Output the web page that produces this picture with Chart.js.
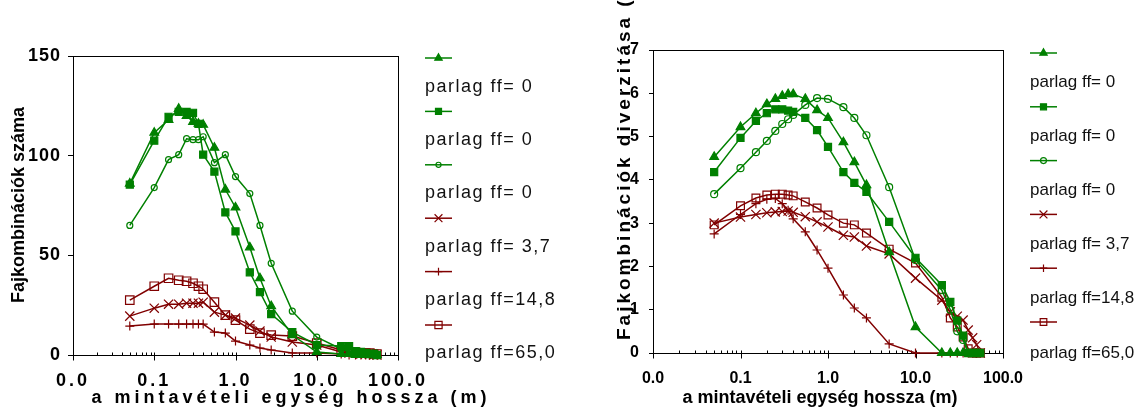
<!DOCTYPE html>
<html><head><meta charset="utf-8">
<script src="https://cdn.jsdelivr.net/npm/chart.js@4/dist/chart.umd.min.js"></script>
<style>
html,body{margin:0;padding:0;background:#fff;}
#wrap{position:relative;width:1138px;height:409px;overflow:hidden;background:#fff;}
#c1{position:absolute;left:0;top:0;}
#c2{position:absolute;left:570px;top:0;}
</style></head><body>
<div id="wrap"><canvas id="c1" width="570" height="409"></canvas><canvas id="c2" width="568" height="409"></canvas></div>
<script>
// ---- data ----
const lengths = [0.05,0.1,0.15,0.2,0.25,0.3,0.35,0.4,0.55,0.75,1,1.5,2,2.75,5,10,20,25,30,35,40,45,50,55];
const legendLabels = ['parlag ff= 0','parlag ff= 0','parlag ff= 0','parlag ff= 3,7','parlag ff=14,8','parlag ff=65,0'];
const xTickValues = [0.01,0.1,1,10,100];
const xTickLabels = ['0.0','0.1','1.0','10.0','100.0'];

// left chart: Fajkombinációk száma
const countA = [86,111.5,118,123.5,120,117,116,115.5,104,83,74,54,38.5,24.5,10,1.5,0.5,0.5,0,0,0,0,0,0];
const countB = [85.5,107.5,119.5,122,122,121.5,116,100.5,92,71.5,62,41.5,31.5,20.5,11.5,5,4.5,4.5,2,1.5,1,0.5,0.5,0];
const countC = [65,84,98,100.5,108.5,108,108,109.5,96.5,100.5,89.5,81,65,46,22,9,3,2,1.5,1,1,0.5,0.5,0];
const countD = [19.5,23.5,25.5,25.5,26,26,26,26.5,21.5,20,18.5,15,12,9,6.5,5,1.5,1,1,0.5,0.5,0.5,0,0];
const countE = [14.5,15.5,15.5,15.5,15.5,15.5,15.5,15.5,11.5,11,7,5,3.5,2.5,1,1,0.5,0,0,0,0,0,0,0];
const countF = [27.5,34.5,38.5,37.5,37,36,34.5,33,26.5,20,17.5,13,11,10,9.5,6,2.5,1.5,1.5,1,1,1,0.5,0.5];

// right chart: Fajkombinációk diverzitása
const divA = [4.53,5.22,5.54,5.75,5.87,5.94,5.98,5.98,5.87,5.61,5.43,4.87,4.41,3.88,2.33,0.6,0,0,0,0,null,null,null,null];
const divB = [4.18,4.97,5.36,5.54,5.63,5.63,5.6,5.57,5.43,5.15,4.76,4.18,3.93,3.72,3.03,2.2,1.57,1.18,0.75,0.4,0,0,0,0];
const divC = [3.67,4.27,4.64,4.9,5.13,5.29,5.4,5.5,5.73,5.89,5.87,5.68,5.43,5.03,3.83,2.15,1.45,1.0,0.5,0.3,0,0,0,0];
const divD = [3.0,3.14,3.2,3.24,3.26,3.27,3.28,3.25,3.15,3.03,2.91,2.72,2.68,2.47,2.29,1.73,1.22,0.95,0.85,0.76,0.53,0.35,0.19,0];
const divE = [2.75,3.2,3.45,3.55,3.57,3.45,3.3,3.1,2.8,2.38,1.96,1.34,1.04,0.81,0.21,0,0,0,0,0,0,0,0,0];
const divF = [2.96,3.4,3.58,3.65,3.67,3.67,3.65,3.63,3.49,3.35,3.19,3.0,2.96,2.77,2.4,2.08,1.29,0.81,0.6,0.37,0.1,0,0,0];

// ---- styles ----
const GREEN = '#008000', RED = '#800000';
const FONT = '"Liberation Sans", Arial, sans-serif';
const markerStyles = [
  {pointStyle:'triangle', color:GREEN, fill:GREEN},
  {pointStyle:'rect',     color:GREEN, fill:GREEN},
  {pointStyle:'circle',   color:GREEN, fill:'rgba(0,0,0,0)'},
  {pointStyle:'crossRot', color:RED,   fill:RED},
  {pointStyle:'cross',    color:RED,   fill:RED},
  {pointStyle:'rect',     color:RED,   fill:'rgba(0,0,0,0)'}
];

function toPoints(arr){
  const pts = [];
  arr.forEach((v,i)=>{ if(v!==null) pts.push({x:lengths[i], y:v}); });
  return pts;
}

function wrapSpacing(scale, spacing){
  if (scale._spWrapped) return;
  const orig = scale.drawLabels.bind(scale);
  scale.drawLabels = function(area){
    const c = this.ctx; const prev = c.letterSpacing;
    c.letterSpacing = spacing;
    orig(area);
    c.letterSpacing = prev;
  };
  scale._spWrapped = true;
}

function decoPlugin(cfg){
  return {
    id:'deco',
    beforeDatasetsDraw(chart){
      const {ctx, chartArea:a} = chart;
      const xs = chart.scales.x;
      ctx.save();
      ctx.strokeStyle = '#000'; ctx.lineWidth = 1;
      ctx.strokeRect(Math.round(a.left)+0.5, Math.round(a.top)+0.5, Math.round(a.right-a.left), Math.round(a.bottom-a.top));
      ctx.beginPath();
      const b = Math.round(a.bottom)+0.5;
      [0.01,0.1,1,10].forEach(d=>{
        for(let k=2;k<=9;k++){
          const px = Math.round(xs.getPixelForValue(d*k))+0.5;
          ctx.moveTo(px,b); ctx.lineTo(px,b-3);
        }
      });
      xTickValues.forEach(v=>{
        const px = Math.round(xs.getPixelForValue(v))+0.5;
        ctx.moveTo(px,b-3); ctx.lineTo(px,b+5);
      });
      ctx.stroke();
      ctx.restore();
    },
    afterDraw(chart){
      const ctx = chart.ctx;
      const datasets = chart.data.datasets;
      ctx.save();
      ctx.fillStyle = '#000';
      ctx.save();
      ctx.translate(cfg.yTitle.x, cfg.yTitle.y);
      ctx.rotate(-Math.PI/2);
      ctx.font = cfg.yTitle.font;
      ctx.letterSpacing = cfg.yTitle.spacing;
      ctx.textAlign = cfg.yTitle.align;
      ctx.textBaseline = cfg.yTitle.baseline;
      ctx.fillText(cfg.yTitle.text, 0, 0);
      ctx.restore();
      ctx.save();
      ctx.font = cfg.xTitle.font;
      ctx.letterSpacing = cfg.xTitle.spacing;
      ctx.textAlign = 'center';
      ctx.textBaseline = 'alphabetic';
      ctx.fillText(cfg.xTitle.text, cfg.xTitle.x, cfg.xTitle.y);
      ctx.restore();
      const L = cfg.legend;
      datasets.forEach((ds,i)=>{
        const my = L.markerY0 + i*L.markerStep;
        const ty = L.textY0 + i*L.textStep;
        ctx.save();
        ctx.strokeStyle = ds.borderColor; ctx.lineWidth = 1.5;
        ctx.beginPath(); ctx.moveTo(L.x0, my); ctx.lineTo(L.x1, my); ctx.stroke();
        ctx.fillStyle = ds.pointBackgroundColor; ctx.strokeStyle = ds.pointBorderColor; ctx.lineWidth = 1.2;
        Chart.helpers.drawPoint(ctx, {pointStyle: ds.pointStyle, radius: ds.pointRadius*0.85, rotation:0, borderWidth:1.2}, (L.x0+L.x1)/2, my);
        ctx.restore();
        ctx.save();
        ctx.font = L.font; ctx.letterSpacing = L.spacing;
        ctx.fillStyle = '#111'; ctx.textAlign='left'; ctx.textBaseline='middle';
        ctx.fillText(ds.label, L.x0, ty);
        ctx.restore();
      });
      ctx.restore();
    }
  };
}

function makeChart(canvas, series, cfg){
  const datasets = series.map((s,i)=>({
    label: legendLabels[i],
    data: toPoints(s),
    borderColor: markerStyles[i].color,
    borderWidth: 1.5,
    pointStyle: markerStyles[i].pointStyle,
    pointRadius: cfg.radii[i],
    pointHoverRadius: cfg.radii[i],
    pointBorderWidth: 1.2,
    pointBackgroundColor: markerStyles[i].fill,
    pointBorderColor: markerStyles[i].color,
    tension: 0,
    fill: false,
    clip: false
  }));
  return new Chart(canvas, {
    type: 'line',
    data: {datasets},
    options: {
      responsive: false, animation: false, devicePixelRatio: 1, events: [],
      layout: {padding: cfg.padding},
      plugins: {legend:{display:false}, tooltip:{enabled:false}, title:{display:false}},
      scales: {
        x: {
          type: 'logarithmic', min: 0.01, max: 100,
          afterBuildTicks: s => { s.ticks = xTickValues.map(v=>({value:v})); },
          afterFit: s => { s.height = cfg.xHeight; wrapSpacing(s, cfg.xTickSpacing); },
          grid: {display:false}, border: {display:false},
          ticks: {autoSkip:false, maxRotation:0, minRotation:0, padding: cfg.xTickPad, color:'#000',
                  font:{family:FONT, size:cfg.xTickSize, weight:'bold'},
                  callback: (v, idx) => xTickLabels[idx]}
        },
        y: {
          min: cfg.yMin, max: cfg.yMax,
          afterFit: s => { s.width = cfg.yWidth; wrapSpacing(s, cfg.yTickSpacing); },
          grid: {display:true, drawOnChartArea:false, drawTicks:true, tickLength:cfg.yTickLen, color:'#000', lineWidth:1},
          border: {display:false},
          ticks: {stepSize: cfg.yStep, padding: cfg.yTickPad, color:'#000',
                  font:{family:FONT, size:cfg.yTickSize, weight:'bold'}}
        }
      }
    },
    plugins: [decoPlugin(cfg)]
  });
}

makeChart(document.getElementById('c1'), [countA,countB,countC,countD,countE,countF], {
  padding: {left:0, top:56, right:172, bottom:0},
  xHeight: 54, yWidth: 73,
  yMin: 0, yMax: 150, yStep: 50,
  radii: [5,5,3,6.5,4.5,6],
  xTickPad: 7, xTickSize: 18, xTickSpacing: '3px',
  yTickPad: 7, yTickSize: 18, yTickSpacing: '1px', yTickLen: 5,
  yTitle: {text:'Fajkombinációk száma', x:19, y:205, font:'bold 18px '+FONT, spacing:'0px', align:'center', baseline:'middle'},
  xTitle: {text:'a mintavételi egység hossza (m)', x:291, y:403, font:'bold 18px '+FONT, spacing:'4px'},
  legend: {x0:425, x1:452, markerY0:58, markerStep:53.4, textY0:87, textStep:53.2, font:'18px '+FONT, spacing:'1.5px'}
});

makeChart(document.getElementById('c2'), [divA,divB,divC,divD,divE,divF], {
  padding: {left:0, top:50, right:135, bottom:0},
  xHeight: 56, yWidth: 83,
  yMin: 0, yMax: 7, yStep: 1,
  radii: [5,5,3.5,6.5,4.5,5.5],
  xTickPad: 8, xTickSize: 16, xTickSpacing: '0px',
  yTickPad: 9, yTickSize: 16, yTickSpacing: '1px', yTickLen: 4,
  yTitle: {text:'Fajkombinációk diverzitása (bit)', x:60, y:340, font:'bold 19px '+FONT, spacing:'3px', align:'left', baseline:'alphabetic'},
  xTitle: {text:'a mintavételi egység hossza (m)', x:250, y:403, font:'bold 18px '+FONT, spacing:'0px'},
  legend: {x0:460, x1:487, markerY0:53, markerStep:53.8, textY0:82, textStep:54.2, font:'17px '+FONT, spacing:'0px'}
});
</script>
</body></html>
